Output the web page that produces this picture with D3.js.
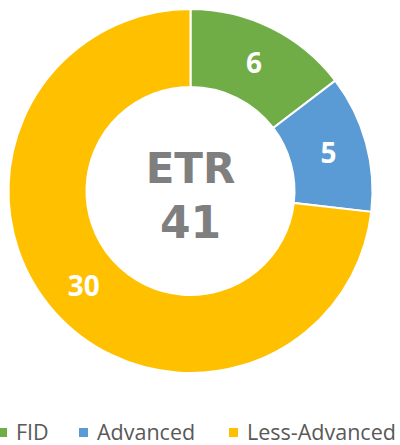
<!DOCTYPE html>
<html>
<head>
<meta charset="utf-8">
<script src="https://cdn.jsdelivr.net/npm/d3@7"></script>
<style>
  body { margin: 0; background: #fff; }
  svg { display: block; }
</style>
</head>
<body>
<div id="chart"></div>
<script>
const WIDTH = 400;
const HEIGHT = 445;

const categories = ["FID", "Advanced", "Less-Advanced"];
const values = [6, 5, 30];
const colors = ["#70AD47", "#5B9BD5", "#FFC000"];
const centerTitle = "ETR";
const centerTotal = "41";

const CX = 190.5, CY = 191;
const OUTER = 182, INNER = 104;

const svg = d3.select("#chart")
  .append("svg")
  .attr("width", WIDTH)
  .attr("height", HEIGHT);

const color = d3.scaleOrdinal().domain(categories).range(colors);

const pie = d3.pie().sort(null).value(d => d.value);
const data = categories.map((c, i) => ({ name: c, value: values[i] }));
const arcs = pie(data);

const arc = d3.arc().innerRadius(INNER).outerRadius(OUTER);
const labelArc = d3.arc().innerRadius((INNER + OUTER) / 2).outerRadius((INNER + OUTER) / 2);

const g = svg.append("g").attr("transform", `translate(${CX},${CY})`);

g.selectAll("path")
  .data(arcs)
  .join("path")
  .attr("d", arc)
  .attr("fill", d => color(d.data.name))
  .attr("stroke", "#fff")
  .attr("stroke-width", 2);

g.selectAll("text.val")
  .data(arcs)
  .join("text")
  .attr("class", "val")
  .attr("transform", d => `translate(${labelArc.centroid(d)})`)
  .attr("text-anchor", "middle")
  .attr("dy", "0.36em")
  .attr("fill", "#fff")
  .attr("font-family", "'Open Sans', sans-serif")
  .attr("font-weight", "bold")
  .attr("font-size", "28px")
  .text(d => d.data.value);

// center text
g.append("text")
  .attr("text-anchor", "middle")
  .attr("y", 183 - CY)
  .attr("fill", "#7F7F7F")
  .attr("font-family", "'DejaVu Sans', sans-serif")
  .attr("font-weight", "bold")
  .attr("font-size", "42px")
  .text(centerTitle);

g.append("text")
  .attr("text-anchor", "middle")
  .attr("y", 238 - CY)
  .attr("fill", "#7F7F7F")
  .attr("font-family", "'DejaVu Sans', sans-serif")
  .attr("font-weight", "bold")
  .attr("font-size", "44px")
  .text(centerTotal);

// legend
const legendX = [-2, 79, 229];
const legend = svg.append("g");
const items = legend.selectAll("g")
  .data(categories)
  .join("g")
  .attr("transform", (d, i) => `translate(${legendX[i]},432)`);

items.append("rect")
  .attr("x", 0)
  .attr("y", -4)
  .attr("width", 9)
  .attr("height", 9)
  .attr("fill", d => color(d));

items.append("text")
  .attr("x", 18)
  .attr("dy", "0.36em")
  .attr("fill", "#595959")
  .attr("font-family", "'Open Sans', sans-serif")
  .attr("font-size", "21.5px")
  .text(d => d);
</script>
</body>
</html>
